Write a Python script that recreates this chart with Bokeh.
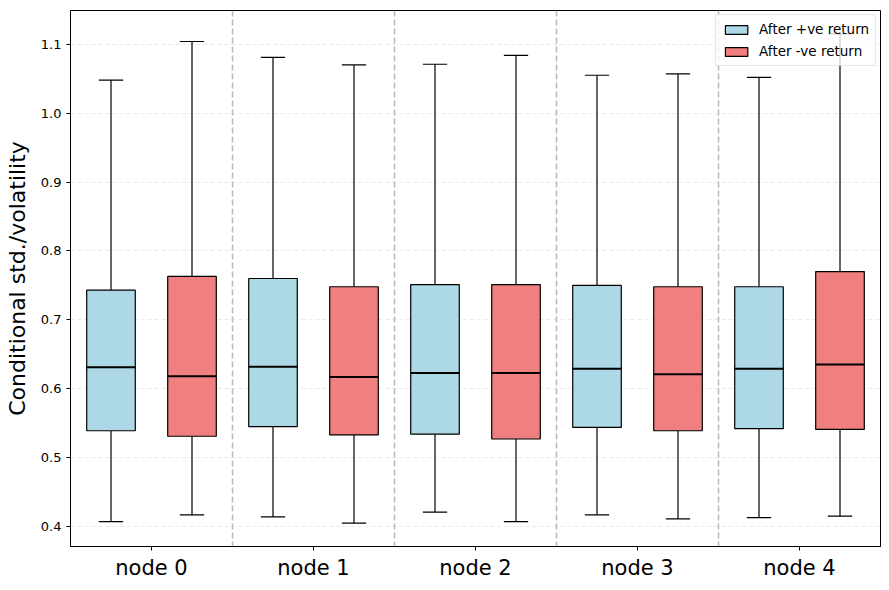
import numpy as np
from bokeh.plotting import figure
from bokeh.models import ColumnDataSource, FixedTicker, NumeralTickFormatter, Span, Range1d, Legend, LegendItem
from bokeh.embed import file_html
from bokeh.resources import INLINE

# ---- data ----
nodes = ["node 0", "node 1", "node 2", "node 3", "node 4"]
y_ticks = [0.4, 0.5, 0.6, 0.7, 0.8, 0.9, 1.0, 1.1]

pos_low = [0.407, 0.414, 0.421, 0.417, 0.413]
pos_q1 = [0.539, 0.545, 0.534, 0.544, 0.542]
pos_med = [0.631, 0.632, 0.623, 0.629, 0.629]
pos_q3 = [0.743, 0.760, 0.751, 0.750, 0.748]
pos_high = [1.048, 1.081, 1.071, 1.055, 1.052]

neg_low = [0.417, 0.405, 0.407, 0.411, 0.415]
neg_q1 = [0.531, 0.533, 0.527, 0.539, 0.541]
neg_med = [0.618, 0.617, 0.623, 0.621, 0.635]
neg_q3 = [0.763, 0.748, 0.751, 0.748, 0.770]
neg_high = [1.104, 1.070, 1.084, 1.057, 1.115]

FONT = "DejaVu Sans"
BOX_W = 0.3
CAP_W = 0.15
OFFSET = 0.25

p = figure(width=881, height=582, output_backend="svg", toolbar_location=None,
           x_range=Range1d(-0.5, 4.5), y_range=Range1d(0.371, 1.149),
           min_border_left=70, min_border_right=1, min_border_top=10, min_border_bottom=35)

p.background_fill_color = "white"
p.outline_line_color = "black"
p.outline_line_alpha = 1.0
p.outline_line_width = 1

# grid
p.xgrid.grid_line_color = None
p.ygrid.ticker = FixedTicker(ticks=y_ticks)
p.ygrid.grid_line_color = "#b0b0b0"
p.ygrid.grid_line_alpha = 0.35
p.ygrid.grid_line_dash = "4 3"
p.ygrid.grid_line_width = 0.8

# axes
centers = list(range(len(nodes)))
p.xaxis.ticker = FixedTicker(ticks=centers)
p.xaxis.major_label_overrides = {i: n for i, n in zip(centers, nodes)}
p.xaxis.major_label_text_font = FONT
p.xaxis.major_label_text_font_size = "21px"
p.xaxis.major_label_text_color = "black"
p.yaxis.ticker = FixedTicker(ticks=y_ticks)
p.yaxis.formatter = NumeralTickFormatter(format="0.0")
p.yaxis.major_label_text_font = FONT
p.yaxis.major_label_text_font_size = "13px"
p.yaxis.major_label_text_color = "black"
p.yaxis.axis_label = "Conditional std./volatility"
p.yaxis.axis_label_text_font = FONT
p.yaxis.axis_label_text_font_size = "22px"
p.yaxis.axis_label_text_font_style = "normal"
p.yaxis.axis_label_text_color = "black"
p.yaxis.axis_label_standoff = 8
for ax in (p.xaxis, p.yaxis):
    ax.axis_line_color = "black"
    ax.major_tick_line_color = "black"
    ax.major_tick_out = 4
    ax.major_tick_in = 0
    ax.minor_tick_line_color = None
    ax.major_label_standoff = 5

# separators
for i in range(len(nodes) - 1):
    p.add_layout(Span(location=i + 0.5, dimension="height", line_color="#b0b0b0",
                      line_dash="6 3", line_width=1.5, line_alpha=0.9))

def draw(offset, low, q1, med, q3, high, color):
    xs = [c + offset for c in centers]
    src = ColumnDataSource(dict(
        x=xs, low=low, q1=q1, med=med, q3=q3, high=high,
        xl=[x - CAP_W / 2 for x in xs], xr=[x + CAP_W / 2 for x in xs],
        ml=[x - BOX_W / 2 for x in xs], mr=[x + BOX_W / 2 for x in xs]))
    p.segment(x0="x", y0="q3", x1="x", y1="high", source=src, line_color="black", line_width=1.2)
    p.segment(x0="x", y0="q1", x1="x", y1="low", source=src, line_color="black", line_width=1.2)
    p.segment(x0="xl", y0="high", x1="xr", y1="high", source=src, line_color="black", line_width=1.2)
    p.segment(x0="xl", y0="low", x1="xr", y1="low", source=src, line_color="black", line_width=1.2)
    r = p.vbar(x="x", width=BOX_W, bottom="q1", top="q3", source=src,
               fill_color=color, line_color="black", line_width=1.2)
    p.segment(x0="ml", y0="med", x1="mr", y1="med", source=src, line_color="black", line_width=2)
    return r

r_pos = draw(-OFFSET, pos_low, pos_q1, pos_med, pos_q3, pos_high, "#add8e6")
r_neg = draw(OFFSET, neg_low, neg_q1, neg_med, neg_q3, neg_high, "#f08080")

legend = Legend(items=[LegendItem(label="After +ve return", renderers=[r_pos]),
                       LegendItem(label="After -ve return", renderers=[r_neg])],
                location="top_right")
legend.label_text_font = FONT
legend.label_text_font_size = "13.5px"
legend.label_text_color = "black"
legend.glyph_width = 28
legend.glyph_height = 11
legend.label_height = 14
legend.spacing = 6
legend.padding = 6
legend.margin = 4
legend.label_standoff = 9
legend.background_fill_alpha = 0.8
legend.border_line_color = "#cccccc"
legend.border_line_width = 1
p.add_layout(legend)

open("out.html", "w").write(file_html(p, INLINE))
